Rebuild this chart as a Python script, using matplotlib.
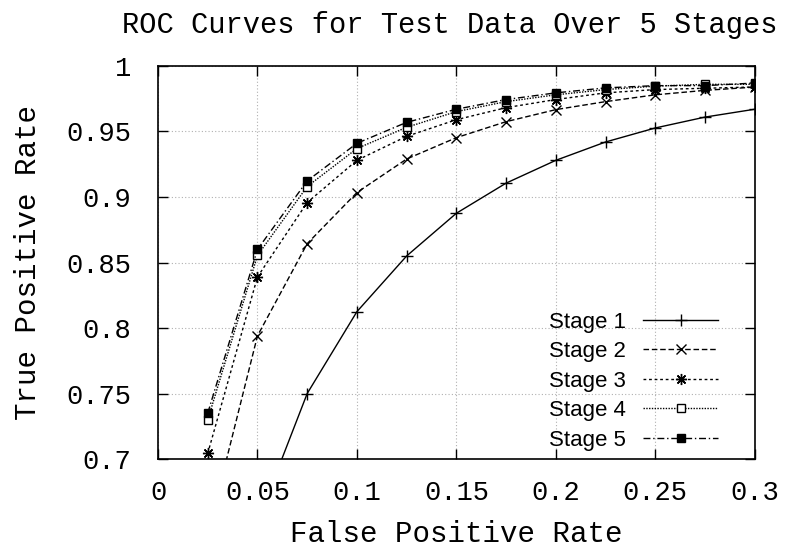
import matplotlib.pyplot as plt

# false positive rate sampled every 0.025
fpr = [0.025, 0.05, 0.075, 0.1, 0.125, 0.15, 0.175, 0.2, 0.225, 0.25, 0.275, 0.3]

# true positive rate per stage
tpr_stage1 = [0.55, 0.652, 0.750, 0.8125, 0.855, 0.8876, 0.9106, 0.928, 0.942, 0.9527, 0.961, 0.967]
tpr_stage2 = [0.6425, 0.794, 0.8644, 0.9034, 0.929, 0.9453, 0.9575, 0.9667, 0.9728, 0.978, 0.9814, 0.9839]
tpr_stage3 = [0.7043, 0.839, 0.8958, 0.928, 0.9463, 0.959, 0.9682, 0.9744, 0.9795, 0.982, 0.983, 0.984]
tpr_stage4 = [0.7299, 0.8554, 0.908, 0.937, 0.9532, 0.9652, 0.9728, 0.978, 0.982, 0.9846, 0.986, 0.986]
tpr_stage5 = [0.735, 0.860, 0.9123, 0.941, 0.957, 0.967, 0.9744, 0.9795, 0.9833, 0.985, 0.985, 0.987]

labels = ["Stage 1", "Stage 2", "Stage 3", "Stage 4", "Stage 5"]
xticks = [0, 0.05, 0.1, 0.15, 0.2, 0.25, 0.3]
xtick_labels = ["0", "0.05", "0.1", "0.15", "0.2", "0.25", "0.3"]
yticks = [0.7, 0.75, 0.8, 0.85, 0.9, 0.95, 1.0]
ytick_labels = ["0.7", "0.75", "0.8", "0.85", "0.9", "0.95", "1"]

mono = "Liberation Mono"

fig = plt.figure(figsize=(7.92, 5.49), dpi=100)
ax = fig.add_axes([0.1995, 0.1639, 0.7535, 0.7159])

styles = [
    dict(ls="-", marker="+", ms=8, mfc="black"),
    dict(ls=(0, (4, 2)), marker="x", ms=7, mfc="black"),
    dict(ls=(0, (2, 2)), marker=(8, 2, 0), ms=8, mfc="black"),
    dict(ls=(0, (1, 1)), marker="s", ms=6, mfc="white"),
    dict(ls=(0, (5, 2, 1, 2)), marker="s", ms=6, mfc="black"),
]
series = [tpr_stage1, tpr_stage2, tpr_stage3, tpr_stage4, tpr_stage5]
for tpr, lab, st in zip(series, labels, styles):
    ax.plot(fpr, tpr, color="black", lw=1.0, mec="black", mew=1.0,
            label=lab, clip_on=True, **st)

ax.set_xlim(0, 0.3)
ax.set_ylim(0.7, 1.0)
ax.set_xticks(xticks)
ax.set_xticklabels(xtick_labels, fontfamily=mono, fontsize=19.5)
ax.set_yticks(yticks)
ax.set_yticklabels(ytick_labels, fontfamily=mono, fontsize=19.5)
ax.tick_params(direction="in", length=7, width=1, top=True, right=True)
ax.tick_params(axis="y", pad=19)
ax.tick_params(axis="x", pad=15)
ax.grid(True, color="#b0b0b0", ls=(0, (1, 2)), lw=0.8)
for sp in ax.spines.values():
    sp.set_linewidth(1.2)

ax.set_xlabel("False Positive Rate", fontfamily=mono, fontsize=21, labelpad=10)
ax.set_ylabel("True Positive Rate", fontfamily=mono, fontsize=21, labelpad=18)
fig.text(0.568, 0.955, "ROC Curves for Test Data Over 5 Stages",
         fontfamily=mono, fontsize=20.7, ha="center", va="center")

leg = ax.legend(loc="lower right", bbox_to_anchor=(0.965, -0.018), frameon=False,
                markerfirst=False, handlelength=3.4, labelspacing=0.38,
                prop={"family": "Liberation Sans", "size": 16},
                handletextpad=0.75, borderaxespad=0.3)

fig.savefig("out.png", dpi=100, facecolor="white")
